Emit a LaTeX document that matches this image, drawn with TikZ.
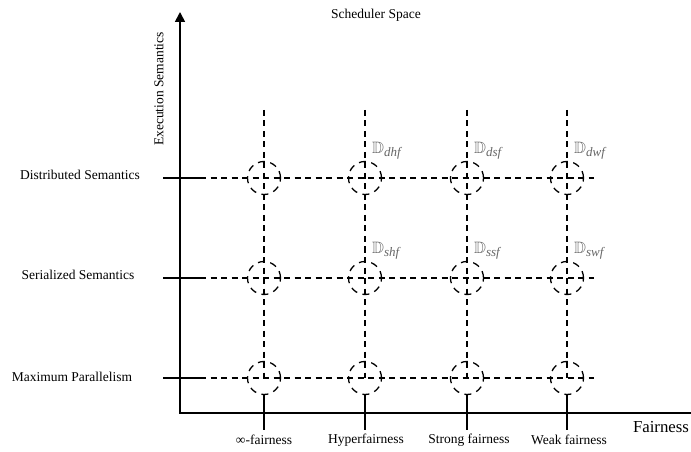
\documentclass[tikz,border=0pt]{standalone}
\usepackage{amssymb}
\usepackage{fontspec}
\setmainfont{Liberation Serif}
\usetikzlibrary{arrows.meta}
\begin{document}
\begin{tikzpicture}[x=1bp,y=-1bp,
  >={Triangle[length=10bp,width=10bp]},
  lbl/.style={inner sep=0pt, font=\fontsize{13.5bp}{16bp}\selectfont},
  biglbl/.style={inner sep=0pt, font=\fontsize{16.8bp}{19bp}\selectfont},
  axisline/.style={line width=1.7bp},
  gridline/.style={line width=1.3bp, dash pattern=on 6bp off 4.5bp},
  tickline/.style={line width=1.3bp},
  spot/.style={circle, draw, line width=1.3bp, dash pattern=on 7bp off 5.5bp,
               minimum size=33bp, inner sep=0pt},
  dlabel/.style={anchor=west, inner sep=0pt, text=black!60,
                 font=\fontsize{16.5bp}{19bp}\selectfont}]
\clip (0,0) rectangle (691,452);

% axes
\coordinate (O) at (180,413);
\coordinate (ytop) at (180,12);
\coordinate (xend) at (702,413);
\draw[axisline, <->] (ytop) |- (xend);

% grid rows: name / y
\foreach \r/\y in {d/178,s/278,m/378}{
  \coordinate (tick-\r) at (163,\y);
  \coordinate (start-\r) at (200,\y);
  \coordinate (end-\r) at (594,\y);
}
% grid columns: index / x
\foreach \c/\x in {1/264,2/365,3/467,4/567}{
  \coordinate (top-\c) at (\x,110);
  \coordinate (bot-\c) at (\x,430);
  \foreach \r/\y in {d/178,s/278,m/378}{
    \node[spot] (p-\r-\c) at (\x,\y) {};
  }
}

% horizontal grid lines with solid ticks on the vertical axis
\foreach \r in {d,s,m}{
  \draw[tickline] (tick-\r) -- (start-\r);
  \draw[gridline] (start-\r) -- (end-\r);
}
% vertical grid lines with solid ticks on the horizontal axis
\foreach \c in {1,2,3,4}{
  \draw[gridline] (top-\c) -- (p-m-\c.center);
  \draw[tickline] (p-m-\c.south) -- (bot-\c);
}

% scheduler labels
\foreach \r/\y/\a in {d/178/d,s/278/s}{
  \foreach \c/\x/\b in {2/365/h,3/467/s,4/567/w}{
    \node[dlabel] (D-\r-\c) at (\x+7,\y-27)
      {$\mathbb{D}$\textsubscript{\itshape\fontsize{13bp}{15bp}\selectfont\a\b f}};
  }
}

% axis titles
\node[lbl] (title) at (376,15) {Scheduler Space};
\node[lbl, rotate=90] (ytitle) at (159,89) {Execution Semantics};
\node[biglbl] (xtitle) at (661,427) {Fairness};

% row labels
\node[lbl] (row-d) at (80,175) {Distributed Semantics};
\node[lbl] (row-s) at (78,275) {Serialized Semantics};
\node[lbl] (row-m) at (72,377) {Maximum Parallelism};

% column labels
\node[lbl] (col-1) at (264,440) {∞-fairness};
\node[lbl] (col-2) at (366,440) {Hyperfairness};
\node[lbl] (col-3) at (469,440) {Strong fairness};
\node[lbl] (col-4) at (569,440) {Weak fairness};
\end{tikzpicture}
\end{document}
